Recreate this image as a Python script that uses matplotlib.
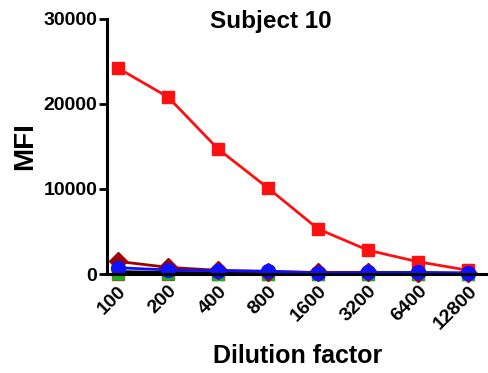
import matplotlib
matplotlib.use("Agg")
import matplotlib.pyplot as plt
import matplotlib.transforms as mtransforms
import numpy as np

plt.rcParams["font.family"] = ["Liberation Sans", "DejaVu Sans"]
plt.rcParams["font.weight"] = "bold"

dilutions = ["100", "200", "400", "800", "1600", "3200", "6400", "12800"]

red_sq = [24200, 20800, 14700, 10100, 5300, 2800, 1450, 450]
darkred_dia = [1500, 800, 450, 300, 200, 200, 150, 100]
black_line = [300, 200, 150, 120, 100, 100, 100, 80]
green_tri = [80, 80, 70, 60, 50, 50, 50, 50]
tan_sq = [20, 20, 20, 20, 20, 20, 20, 20]
blue_circ = [750, 500, 400, 350, 150, 200, 200, 150]

x = np.arange(len(dilutions))

fig = plt.figure(figsize=(4.88, 3.73), dpi=100)
ax = fig.add_axes([0.219, 0.265, 0.78, 0.685])

ax.plot(x, tan_sq, "s-", color="#8B5A2B", mfc="#C8A060", mec="#8B5A2B", ms=9, lw=2, clip_on=False)
ax.plot(x, green_tri, "^-", color="#1DB01D", ms=9, lw=2, clip_on=False)
ax.plot(x, black_line, "-", color="black", lw=2)
ax.plot(x, darkred_dia, "D-", color="#A00000", ms=9, lw=2, clip_on=False)
ax.plot(x, red_sq, "s-", color="#FF1010", ms=8.5, lw=2, clip_on=False)
ax.plot(x, blue_circ, "o-", color="#1010FF", ms=10, lw=2, clip_on=False)

ax.set_xlim(-0.22, 7.38)
ax.set_ylim(0, 30000)
ax.set_yticks([0, 10000, 20000, 30000])
ax.set_xticks(x)
ax.set_xticklabels(dilutions, rotation=45, ha="right", rotation_mode="anchor",
                   fontsize=14, fontweight="bold")
# nudge the rotated labels so they end just right of their tick
shift = mtransforms.ScaledTranslation(9 / 100, -3 / 100, fig.dpi_scale_trans)
for lab in ax.get_xticklabels():
    lab.set_transform(lab.get_transform() + shift)
for lab in ax.get_yticklabels():
    lab.set_fontsize(14)
    lab.set_fontweight("bold")

for side in ["top", "right"]:
    ax.spines[side].set_visible(False)
for side in ["left", "bottom"]:
    ax.spines[side].set_linewidth(2.2)
ax.tick_params(axis="y", width=2, length=6, pad=1)
ax.tick_params(axis="x", width=1.5, length=3, pad=3)

fig.text(271 / 488, 1 - 28 / 373, "Subject 10", ha="center", va="baseline",
         fontsize=17.5, fontweight="bold")
ax.set_ylabel("MFI", fontsize=20, fontweight="bold", labelpad=4)
ax.set_xlabel("Dilution factor", fontsize=18, fontweight="bold", labelpad=8)

fig.savefig("out.png", dpi=100)
